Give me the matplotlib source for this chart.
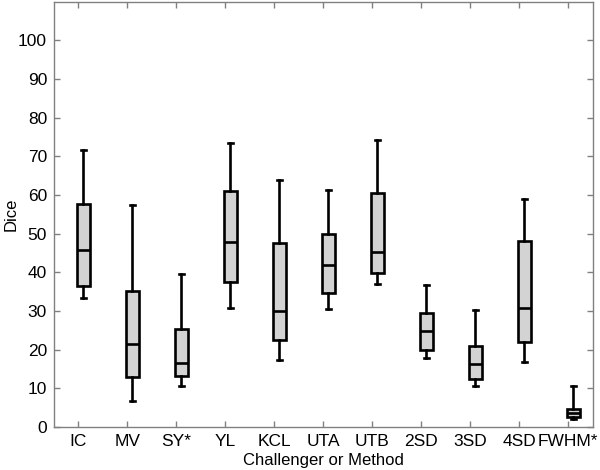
import matplotlib
matplotlib.use("Agg")
import matplotlib.pyplot as plt

plt.rcParams['font.family'] = ['Liberation Sans', 'DejaVu Sans']

categories = ["IC", "MV", "SY*", "YL", "KCL", "UTA", "UTB", "2SD", "3SD", "4SD", "FWHM*"]
whisker_low = [33.3, 6.6, 10.7, 30.7, 17.2, 30.6, 37.0, 17.8, 10.6, 16.8, 2.0]
q1 = [36.5, 13.0, 13.3, 37.5, 22.6, 34.6, 39.9, 19.9, 12.3, 22.1, 2.7]
median = [45.7, 21.4, 16.6, 47.9, 30.1, 42.0, 45.2, 24.7, 16.3, 30.7, 3.5]
q3 = [57.7, 35.2, 25.3, 61.0, 47.5, 50.0, 60.4, 29.6, 21.0, 48.1, 4.7]
whisker_high = [71.7, 57.3, 39.6, 73.4, 63.8, 61.4, 74.3, 36.8, 30.3, 59.0, 10.7]

stats = []
for i, c in enumerate(categories):
    stats.append(dict(label=c, whislo=whisker_low[i], q1=q1[i], med=median[i],
                      q3=q3[i], whishi=whisker_high[i], fliers=[]))

fig = plt.figure(figsize=(6.0, 4.7), dpi=100)
ax = fig.add_axes([0.09, 0.0915, 0.898, 0.905])

ticks = list(range(1, len(categories) + 1))
positions = [t + 0.1 for t in ticks]
lw = 1.9
ax.bxp(stats, positions=positions, widths=0.27, patch_artist=True, showfliers=False,
       boxprops=dict(facecolor='#d3d3d3', edgecolor='black', linewidth=lw),
       medianprops=dict(color='black', linewidth=lw),
       whiskerprops=dict(color='black', linewidth=lw),
       capprops=dict(color='black', linewidth=lw),
       capwidths=0.11, manage_ticks=False)

ax.set_xlim(0.5, len(categories) + 0.5)
ax.set_ylim(0, 110)
ax.set_xticks(ticks)
ax.set_xticklabels(categories)
ax.set_yticks(range(0, 101, 10))
ax.tick_params(direction='in', top=True, right=True, color='#808080', length=4,
               width=1, labelsize=12.5, pad=5)
for s in ax.spines.values():
    s.set_color('#808080')
    s.set_linewidth(1)
ax.set_xlabel("Challenger or Method", fontsize=12, labelpad=3)
ax.set_ylabel("Dice", fontsize=12, labelpad=4)
ax.yaxis.set_label_coords(-0.065, 0.5)

fig.savefig("out.png", dpi=100)
